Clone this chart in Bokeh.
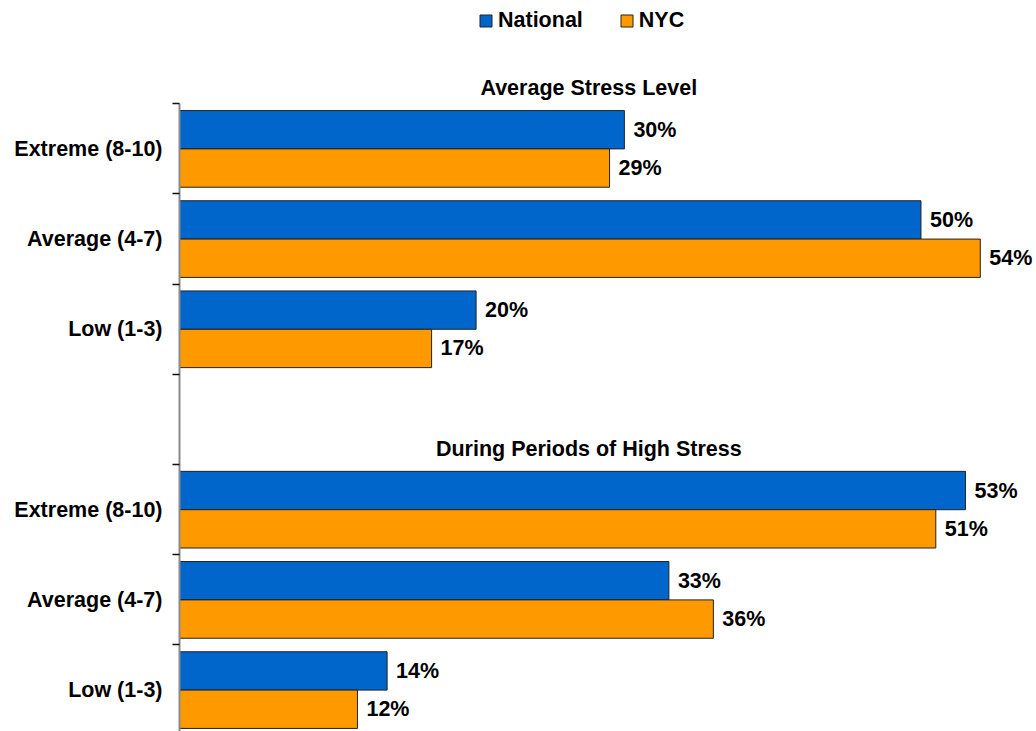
from bokeh.plotting import figure
from bokeh.models import (ColumnDataSource, Range1d, FixedTicker, Legend, LegendItem)
from bokeh.core.properties import value
from bokeh.embed import file_html
from bokeh.resources import INLINE

# Survey data: share of respondents by stress level
categories = ["Extreme (8-10)", "Average (4-7)", "Low (1-3)"]
sections = ["Average Stress Level", "During Periods of High Stress"]
national_avg = [30, 50, 20]
nyc_avg = [29, 54, 17]
national_high = [53, 33, 14]
nyc_high = [51, 36, 12]
series_names = ["National", "NYC"]

BLUE = "#0066CC"
ORANGE = "#FF9900"
FONT = "Liberation Sans"
FS = "21.5px"

# slot layout: three rows per section, one empty row between sections
section_start = [0, 4]
bar_h = 0.425

ys, labels, nat_vals, nyc_vals = [], [], [], []
for start, nat, nyc in zip(section_start, [national_avg, national_high], [nyc_avg, nyc_high]):
    for i, cat in enumerate(categories):
        ys.append(start + i + 0.5)
        labels.append(cat)
        nat_vals.append(nat[i])
        nyc_vals.append(nyc[i])

nat_src = ColumnDataSource(dict(y=[y - bar_h / 2 for y in ys], v=nat_vals,
                                t=[f"{v}%" for v in nat_vals]))
nyc_src = ColumnDataSource(dict(y=[y + bar_h / 2 for y in ys], v=nyc_vals,
                                t=[f"{v}%" for v in nyc_vals]))

p = figure(width=1036, height=731, output_backend="svg", toolbar_location=None,
           x_range=Range1d(0, 57.79), y_range=Range1d(6.959, -1.145),
           x_axis_location=None, min_border_left=179, min_border_right=0,
           min_border_top=0, min_border_bottom=0)
p.outline_line_color = None
p.grid.visible = False
p.background_fill_color = "white"
p.border_fill_color = "white"

r_nat = p.hbar(y="y", left=0, right="v", height=bar_h, source=nat_src,
               fill_color=BLUE, line_color="#222222", line_width=1)
r_nyc = p.hbar(y="y", left=0, right="v", height=bar_h, source=nyc_src,
               fill_color=ORANGE, line_color="#222222", line_width=1)

for src in (nat_src, nyc_src):
    p.text(x="v", y="y", text="t", source=src, x_offset=9,
           text_baseline="middle", text_align="left",
           text_font=value(FONT), text_font_style="bold",
           text_font_size=FS, text_color="#000000")

# section headings
p.text(x=[27.6, 27.6], y=[s - 0.175 for s in section_start], text=sections,
       text_align="center", text_baseline="alphabetic",
       text_font=value(FONT), text_font_style="bold",
       text_font_size=FS, text_color="#000000")

# category axis: labels at row centres, tick marks at row boundaries
ax = p.yaxis[0]
ax.bounds = (0, 7)
ax.ticker = FixedTicker(ticks=ys, minor_ticks=list(range(0, 8)))
ax.major_label_overrides = {y: lab for y, lab in zip(ys, labels)}
ax.major_tick_out = 0
ax.major_tick_in = 0
ax.minor_tick_out = 7
ax.minor_tick_in = 0
ax.minor_tick_line_color = "#111111"
ax.minor_tick_line_width = 1.5
ax.axis_line_color = "#8a8a8a"
ax.axis_line_width = 2
ax.major_label_standoff = 10
ax.major_label_text_font = FONT
ax.major_label_text_font_style = "bold"
ax.major_label_text_font_size = FS
ax.major_label_text_color = "#000000"

legend = Legend(items=[LegendItem(label=series_names[0], renderers=[r_nat]),
                       LegendItem(label=series_names[1], renderers=[r_nyc])],
                orientation="horizontal", location=(299, 698),
                glyph_width=15, glyph_height=15, label_height=15,
                label_standoff=5, spacing=36, padding=0, margin=0,
                border_line_color=None, background_fill_alpha=0,
                label_text_font=FONT, label_text_font_style="bold",
                label_text_font_size=FS, label_text_color="#000000")
p.add_layout(legend)

open("out.html", "w").write(file_html(p, INLINE))
